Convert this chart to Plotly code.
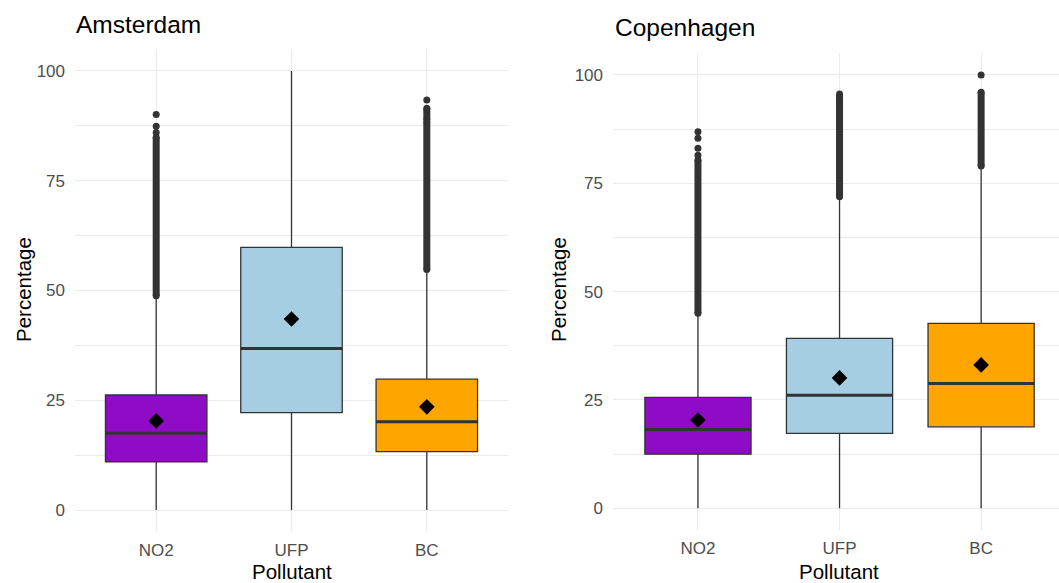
import plotly.graph_objects as go

W, H = 1059, 583

pollutants = ["NO2", "UFP", "BC"]
fill_colors = ["#8F0BC6", "#A6CEE3", "#FFA500"]

# Amsterdam box statistics (percentage)
ams_q1 = [11.0, 22.2, 13.3]
ams_median = [17.5, 36.8, 20.1]
ams_q3 = [26.2, 59.8, 29.8]
ams_mean = [20.3, 43.5, 23.5]
ams_low = [0.0, 0.0, 0.0]
ams_high = [48.5, 100.0, 54.5]
# outlier runs (low, high); single points have low == high
ams_outlier_runs = [
    [(48.8, 84.9), (86.0, 86.0), (87.4, 87.4), (90.1, 90.1)],
    [],
    [(54.8, 88.4), (88.9, 91.5), (93.4, 93.4)],
]

# Copenhagen box statistics (percentage)
cph_q1 = [12.5, 17.3, 18.8]
cph_median = [18.2, 26.1, 28.8]
cph_q3 = [25.6, 39.2, 42.7]
cph_mean = [20.4, 30.1, 33.1]
cph_low = [0.0, 0.0, 0.0]
cph_high = [44.8, 71.6, 78.6]
cph_outlier_runs = [
    [(45.0, 80.4), (81.5, 81.5), (83.1, 83.1), (85.4, 85.4), (86.9, 86.9)],
    [(71.9, 95.6)],
    [(79.0, 96.0), (100.0, 100.0)],
]

panels = [
    ("Amsterdam", ams_q1, ams_median, ams_q3, ams_mean, ams_low, ams_high, ams_outlier_runs, "x", "y"),
    ("Copenhagen", cph_q1, cph_median, cph_q3, cph_mean, cph_low, cph_high, cph_outlier_runs, "x2", "y2"),
]

DARK = "#333333"
BOXW = 0.75
fig = go.Figure()

for (name, q1, med, q3, mean, low, high, runs, xa, ya) in panels:
    for i, p in enumerate(pollutants):
        xpos = i + 1
        fig.add_trace(go.Box(
            x=[xpos], q1=[q1[i]], median=[med[i]], q3=[q3[i]],
            lowerfence=[low[i]], upperfence=[high[i]],
            width=BOXW, whiskerwidth=0, boxpoints=False,
            fillcolor=fill_colors[i], line=dict(color=DARK, width=1.3),
            xaxis=xa, yaxis=ya, hoverinfo="skip",
        ))
        # thick median line
        fig.add_trace(go.Scatter(
            x=[xpos - BOXW / 2, xpos + BOXW / 2], y=[med[i], med[i]],
            mode="lines", line=dict(color=DARK, width=3),
            xaxis=xa, yaxis=ya, hoverinfo="skip",
        ))
        # outliers
        for lo, hi in runs[i]:
            if hi > lo:
                fig.add_trace(go.Scatter(
                    x=[xpos, xpos], y=[lo, hi], mode="lines+markers",
                    line=dict(color=DARK, width=7),
                    marker=dict(color=DARK, size=7, symbol="circle"),
                    xaxis=xa, yaxis=ya, hoverinfo="skip",
                ))
            else:
                fig.add_trace(go.Scatter(
                    x=[xpos], y=[lo], mode="markers",
                    marker=dict(color=DARK, size=7, symbol="circle"),
                    xaxis=xa, yaxis=ya, hoverinfo="skip",
                ))
        # mean diamond
        fig.add_trace(go.Scatter(
            x=[xpos], y=[mean[i]], mode="markers",
            marker=dict(color="black", size=12, symbol="diamond"),
            xaxis=xa, yaxis=ya, hoverinfo="skip",
        ))

FONT = "Liberation Sans, Arial, sans-serif"
TICKFONT = dict(family=FONT, size=17, color="#4D4D4D")
GRID = "#EBEBEB"

xcommon = dict(
    tickvals=[1, 2, 3], ticktext=pollutants, showgrid=True, gridcolor=GRID,
    gridwidth=1.1, zeroline=False, showline=False, ticks="", tickfont=TICKFONT,
    ticklabelstandoff=6,
)
ycommon = dict(
    range=[-5, 105], tickvals=[0, 25, 50, 75, 100], showgrid=True,
    gridcolor=GRID, gridwidth=1.1, zeroline=False, showline=False, ticks="",
    tickfont=TICKFONT, ticklabelstandoff=9,
    minor=dict(tickvals=[12.5, 37.5, 62.5, 87.5], showgrid=True,
               gridcolor=GRID, gridwidth=0.6, ticks=""),
)

fig.update_layout(
    width=W, height=H, margin=dict(l=0, r=0, t=0, b=0),
    plot_bgcolor="white", paper_bgcolor="white", showlegend=False,
    font=dict(family=FONT),
    xaxis=dict(domain=[75 / W, 508 / W], range=[0.4, 3.6], anchor="y", **xcommon),
    xaxis2=dict(domain=[613 / W, 1.0], range=[0.4, 3.55], anchor="y2", **xcommon),
    yaxis=dict(domain=[1 - 532 / H, 1 - 49 / H], anchor="x", **ycommon),
    yaxis2=dict(domain=[1 - 530 / H, 1 - 53.3 / H], anchor="x2", **ycommon),
)

ann = []
ann.append(dict(text="Amsterdam", x=74 / W, y=1 - 25 / H, xanchor="left", yanchor="middle",
                font=dict(size=24.5, color="black", family=FONT)))
ann.append(dict(text="Copenhagen", x=613 / W, y=1 - 27 / H, xanchor="left", yanchor="middle",
                font=dict(size=24.5, color="black", family=FONT)))
for xc in [23, 558]:
    ann.append(dict(text="Percentage", x=xc / W, y=1 - 290 / H, xanchor="center", yanchor="middle",
                    textangle=-90, font=dict(size=20.5, color="black", family=FONT)))
for xc in [292, 839]:
    ann.append(dict(text="Pollutant", x=xc / W, y=1 - 571 / H, xanchor="center", yanchor="middle",
                    font=dict(size=20.5, color="black", family=FONT)))
for a in ann:
    a.update(xref="paper", yref="paper", showarrow=False)
fig.update_layout(annotations=ann)

fig.write_html(
    "out.html",
    config={"displayModeBar": False},
    post_script="document.body.style.margin='0';document.body.style.overflow='hidden';",
)
